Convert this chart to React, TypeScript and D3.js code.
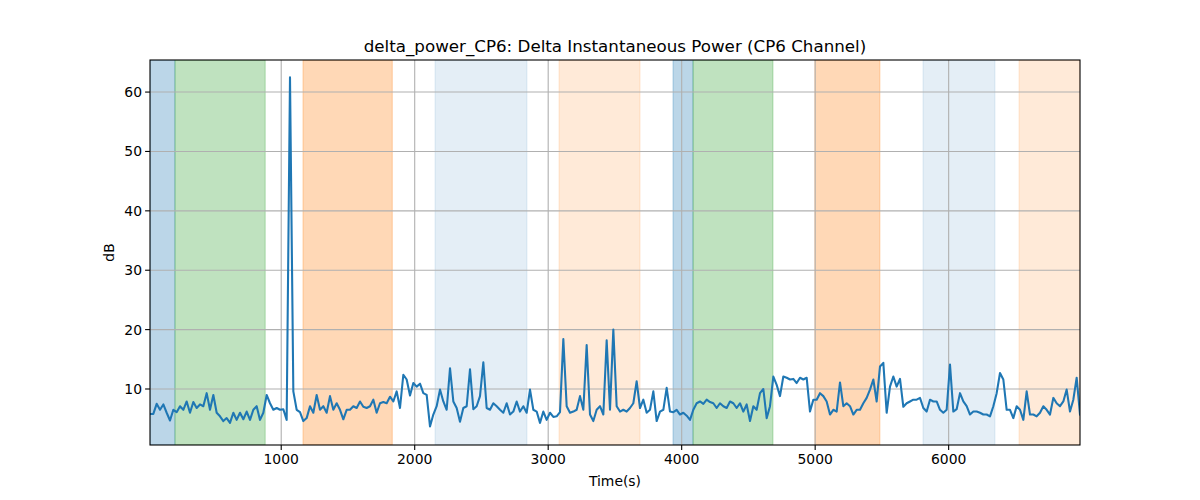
import React from "react";
import * as d3 from "d3";

const title = "delta_power_CP6: Delta Instantaneous Power (CP6 Channel)";
const xLabel = "Time(s)";
const yLabel = "dB";

const tStart = 17;
const tEnd = 6984;

const values: number[] = [
  5.8, 5.8, 7.5, 6.5, 7.4, 6.0, 4.7, 6.5, 6.1, 7.1,
  6.5, 7.9, 6.0, 7.8, 6.8, 7.4, 7.1, 9.3, 6.5, 9.0,
  6.0, 5.4, 4.6, 5.1, 4.3, 6.0, 4.8, 6.0, 4.9, 6.2,
  4.8, 6.5, 7.1, 4.8, 6.0, 9.0, 7.6, 6.5, 6.8, 6.5,
  6.6, 4.8, 62.5, 9.6, 6.5, 6.1, 4.6, 5.1, 7.1, 6.0,
  9.0, 6.5, 7.1, 6.0, 8.8, 6.5, 7.6, 6.5, 4.9, 6.5,
  6.5, 7.1, 6.8, 7.9, 7.0, 6.8, 7.1, 8.2, 6.0, 7.6,
  7.8, 7.6, 8.7, 7.9, 9.6, 6.8, 12.4, 11.6, 8.9, 11.0,
  10.4, 10.9, 9.3, 9.0, 3.7, 5.7, 7.1, 9.9, 7.9, 6.5,
  13.5, 7.9, 6.8, 4.5, 6.8, 7.1, 13.3, 6.6, 7.1, 8.8,
  14.5, 6.8, 6.5, 7.6, 7.1, 6.5, 6.0, 7.6, 5.7, 6.2,
  7.9, 6.2, 7.1, 6.0, 9.9, 6.5, 6.2, 4.3, 6.2, 4.8,
  6.0, 5.3, 5.4, 6.1, 18.4, 7.1, 6.0, 6.2, 6.5, 8.8,
  6.5, 17.4, 5.7, 4.6, 6.5, 7.1, 5.7, 18.2, 6.5, 20.0,
  7.1, 6.2, 6.5, 6.2, 6.8, 7.6, 11.3, 6.8, 8.2, 6.0,
  6.5, 9.6, 4.6, 6.2, 6.5, 10.2, 6.2, 6.1, 6.5, 5.7,
  6.0, 5.5, 4.8, 6.5, 7.6, 7.9, 7.5, 8.2, 7.8, 7.6,
  6.8, 7.6, 7.1, 6.8, 7.9, 7.6, 6.8, 7.6, 6.2, 7.4,
  4.6, 7.1, 6.5, 9.3, 10.0, 5.1, 7.1, 12.1, 10.7, 8.8,
  12.1, 11.9, 11.6, 11.7, 11.0, 11.9, 11.6, 11.9, 6.2, 8.2,
  8.2, 9.3, 8.8, 7.9, 5.7, 6.5, 6.2, 11.1, 7.1, 7.6,
  7.1, 5.7, 6.5, 6.5, 7.6, 8.5, 9.9, 11.6, 7.9, 13.8,
  14.4, 6.0, 10.4, 12.1, 10.4, 11.7, 7.0, 7.6, 7.9, 8.2,
  8.2, 8.5, 6.8, 6.2, 8.2, 7.9, 7.9, 6.5, 6.0, 6.5,
  14.1, 6.2, 6.6, 9.3, 7.9, 7.1, 5.7, 6.2, 6.2, 6.0,
  5.7, 5.7, 5.4, 7.1, 9.3, 12.7, 11.6, 6.5, 6.5, 5.1,
  7.1, 6.5, 4.8, 9.6, 5.7, 5.7, 5.4, 6.0, 7.1, 6.5,
  5.7, 8.5, 7.6, 7.1, 7.9, 9.9, 6.2, 8.2, 11.9, 5.7,
];

const times: number[] = values.map(
  (_, i) => tStart + (i * (tEnd - tStart)) / (values.length - 1)
);

// Shaded segments: start, end, colour, opacity
const bandStarts = [17, 204, 1163, 2152, 3081, 3935, 4085, 4998, 5808, 6527];
const bandEnds = [204, 880, 1832, 2841, 3688, 4085, 4684, 5485, 6347, 6984];
const bandColors = [
  "#1f77b4", "#2ca02c", "#ff7f0e", "#1f77b4", "#ff7f0e",
  "#1f77b4", "#2ca02c", "#ff7f0e", "#1f77b4", "#ff7f0e",
];
const bandAlphas = [0.3, 0.3, 0.3, 0.12, 0.16, 0.3, 0.3, 0.3, 0.12, 0.16];

const xTicks = [1000, 2000, 3000, 4000, 5000, 6000];
const yTicks = [10, 20, 30, 40, 50, 60];

const W = 1200;
const H = 500;
const L = 150;
const R = 1080;
const T = 60;
const B = 445;

export default function App() {
  const x = d3.scaleLinear().domain([tStart, tEnd]).range([L, R]);
  const y = d3.scaleLinear().domain([0.57, 65.4]).range([B, T]);
  const line = d3
    .line<number>()
    .x((_, i) => x(times[i]))
    .y((d) => y(d));
  const font = "'DejaVu Sans', sans-serif";

  return (
    <svg
      width={W}
      height={H}
      style={{ position: "absolute", left: 0, top: 0, background: "#fff" }}
      fontFamily={font}
    >
      <defs>
        <clipPath id="plot">
          <rect x={L} y={T} width={R - L} height={B - T} />
        </clipPath>
      </defs>
      <rect x={0} y={0} width={W} height={H} fill="#fff" />
      <g clipPath="url(#plot)">
        {bandStarts.map((s, i) => (
          <rect
            key={"b" + i}
            x={x(s)}
            y={T}
            width={x(bandEnds[i]) - x(s)}
            height={B - T}
            fill={bandColors[i]}
            fillOpacity={bandAlphas[i]}
            stroke={bandColors[i]}
            strokeOpacity={bandAlphas[i]}
            strokeWidth={1}
          />
        ))}
        {xTicks.map((t) => (
          <line
            key={"gx" + t}
            x1={x(t)}
            x2={x(t)}
            y1={T}
            y2={B}
            stroke="#b0b0b0"
            strokeWidth={1.1}
          />
        ))}
        {yTicks.map((t) => (
          <line
            key={"gy" + t}
            x1={L}
            x2={R}
            y1={y(t)}
            y2={y(t)}
            stroke="#b0b0b0"
            strokeWidth={1.1}
          />
        ))}
      </g>
      <g clipPath="url(#plot)">
        <path
          d={line(values) || ""}
          fill="none"
          stroke="#1f77b4"
          strokeWidth={2.08}
          strokeLinejoin="round"
          strokeLinecap="square"
        />
      </g>
      <rect
        x={L}
        y={T}
        width={R - L}
        height={B - T}
        fill="none"
        stroke="#000"
        strokeWidth={1.1}
      />
      {xTicks.map((t) => (
        <g key={"tx" + t}>
          <line x1={x(t)} x2={x(t)} y1={B} y2={B + 4.9} stroke="#000" strokeWidth={1.1} />
          <text x={x(t)} y={B + 19} textAnchor="middle" fontSize={13.9} fill="#000">
            {t}
          </text>
        </g>
      ))}
      {yTicks.map((t) => (
        <g key={"ty" + t}>
          <line x1={L - 4.9} x2={L} y1={y(t)} y2={y(t)} stroke="#000" strokeWidth={1.1} />
          <text
            x={L - 8}
            y={y(t)}
            textAnchor="end"
            dominantBaseline="central"
            fontSize={13.9}
            fill="#000"
          >
            {t}
          </text>
        </g>
      ))}
      <text x={(L + R) / 2} y={486} textAnchor="middle" fontSize={13.9} fill="#000">
        {xLabel}
      </text>
      <text
        transform={`translate(114, ${(T + B) / 2}) rotate(-90)`}
        textAnchor="middle"
        fontSize={13.9}
        fill="#000"
      >
        {yLabel}
      </text>
      <text x={(L + R) / 2} y={52} textAnchor="middle" fontSize={16.7} fill="#000">
        {title}
      </text>
    </svg>
  );
}
